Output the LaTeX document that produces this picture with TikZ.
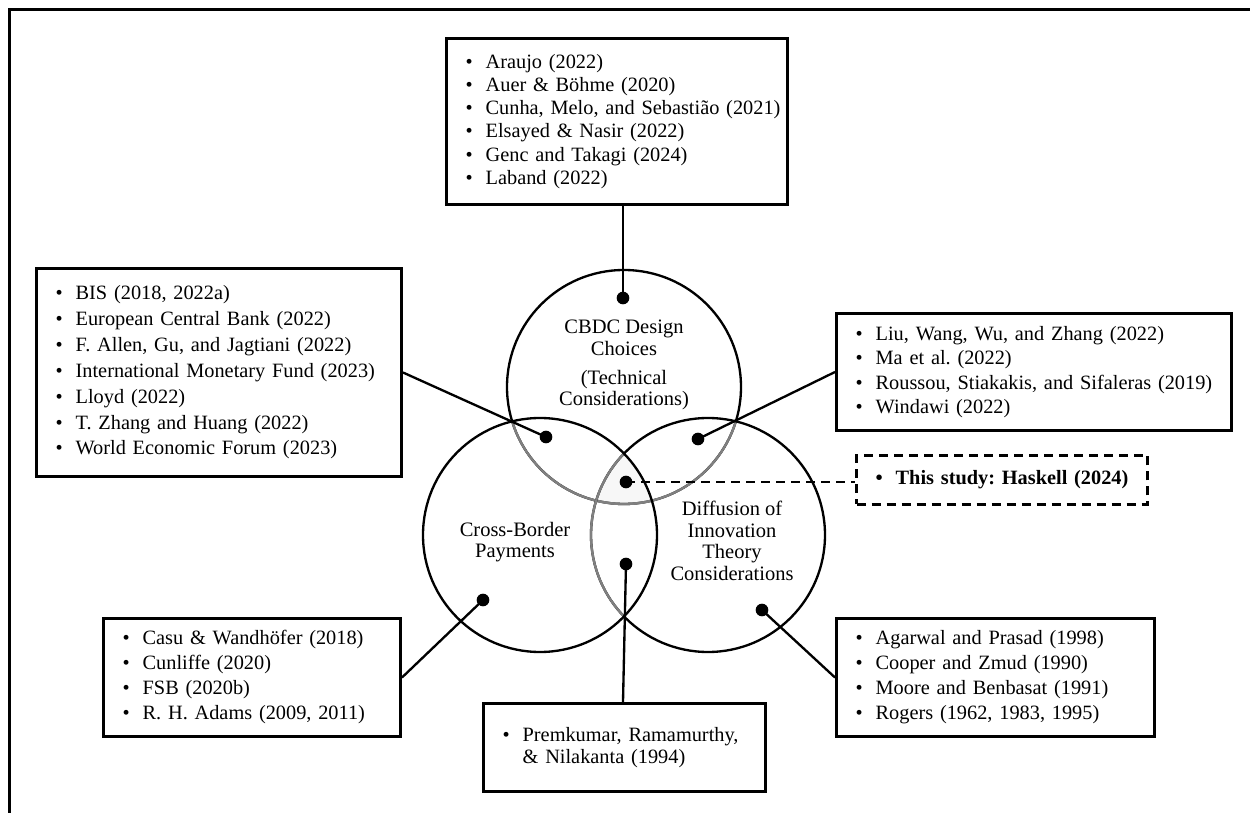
\documentclass[tikz,border=0pt]{standalone}
\usepackage{fontspec}
\setmainfont{Liberation Serif}
\usetikzlibrary{calc}
\frenchspacing
% bullet followed by a fixed gap before the entry text
\newcommand\itm{\makebox[12pt][l]{\textbullet}}
\newcommand\ind{\hspace*{12pt}}
\newcommand\R{70.2pt}
\begin{document}
\begin{tikzpicture}[x=0.6pt,y=-0.6pt,
  refbox/.style={draw, line width=1.8pt, anchor=north west, align=left,
    inner xsep=11.5pt, inner ysep=0pt},
  dashbox/.style={refbox, dash pattern=on 5.4pt off 3.6pt},
  ring/.style={line width=1.4pt, draw=black},
  innerarc/.style={draw=black!50},
  dot/.style={circle, fill=black, inner sep=0pt, minimum size=7.6pt},
  link/.style={line width=1.4pt},
  lbl/.style={align=center, inner sep=0pt}]
\useasboundingbox (0,0) rectangle (1250,813);

% frame
\draw[line width=1.8pt] (1252,10) -- (9,10) -- (9,815);

% circle centres
\coordinate (cT) at (624,387);
\coordinate (cL) at (540,535);
\coordinate (cR) at (708,535);

% shared region of all three circles
\begin{scope}
  \clip (cT) circle[radius=\R];
  \clip (cL) circle[radius=\R];
  \fill[black!3] (cR) circle[radius=\R];
\end{scope}

% top circle, lighter where it lies inside the lower circles
\draw[ring] (cT) circle[radius=\R];
\begin{scope}
  \clip (cL) circle[radius=\R];
  \draw[ring, innerarc] (cT) circle[radius=\R];
\end{scope}
\begin{scope}
  \clip (cR) circle[radius=\R];
  \draw[ring, innerarc] (cT) circle[radius=\R];
\end{scope}

% right circle, lighter inside the left one
\draw[ring] (cR) circle[radius=\R];
\begin{scope}
  \clip (cL) circle[radius=\R];
  \draw[ring, innerarc] (cR) circle[radius=\R];
\end{scope}

% left circle
\draw[ring] (cL) circle[radius=\R];

% circle labels
\node[lbl, font=\fontsize{12.3}{13}\selectfont] (tT) at (624,365)
  {CBDC Design\\Choices\\[4.4pt](Technical\\Considerations)};
\node[lbl, font=\fontsize{12.3}{13}\selectfont] (tL) at (515,542)
  {Cross-Border\\Payments};
\node[lbl, font=\fontsize{12.3}{13}\selectfont] (tR) at (732,541)
  {Diffusion of\\Innovation\\Theory\\Considerations};

% reference boxes
\node[refbox, text width=181.6pt, minimum height=99.6pt,
  font=\fontsize{12.2}{13.9}\selectfont] (tbox) at (445,37)
  {\itm Araujo (2022)\\
   \itm Auer \& Böhme (2020)\\
   \itm \mbox{Cunha, Melo, and Sebastião (2021)}\\
   \itm Elsayed \& Nasir (2022)\\
   \itm Genc and Takagi (2024)\\
   \itm Laband (2022)};

\node[refbox, text width=196pt, minimum height=124.8pt,
  font=\fontsize{12.2}{15.5}\selectfont] (lbox) at (35,267)
  {\itm BIS (2018, 2022a)\\
   \itm European Central Bank (2022)\\
   \itm F. Allen, Gu, and Jagtiani (2022)\\
   \itm \mbox{International Monetary Fund (2023)}\\
   \itm Lloyd (2022)\\
   \itm T. Zhang and Huang (2022)\\
   \itm World Economic Forum (2023)};

\node[refbox, text width=214pt, minimum height=70.2pt,
  font=\fontsize{12.2}{14.6}\selectfont] (rbox) at (835,312)
  {\itm Liu, Wang, Wu, and Zhang (2022)\\
   \itm Ma et al. (2022)\\
   \itm \mbox{Roussou, Stiakakis, and Sifaleras (2019)}\\
   \itm Windawi (2022)};

\node[dashbox, text width=151.6pt, minimum height=29.4pt,
  font=\fontsize{12.2}{14.6}\selectfont\bfseries] (dbox) at (855,454)
  {\itm \mbox{This study: Haskell (2024)}};

\node[refbox, text width=155.2pt, minimum height=70.8pt,
  font=\fontsize{12.2}{15}\selectfont] (blbox) at (102,617)
  {\itm Casu \& Wandhöfer (2018)\\
   \itm Cunliffe (2020)\\
   \itm FSB (2020b)\\
   \itm R. H. Adams (2009, 2011)};

\node[refbox, text width=146.2pt, minimum height=52.8pt,
  font=\fontsize{12.2}{13.4}\selectfont] (bmbox) at (482,702)
  {\itm \mbox{Premkumar, Ramamurthy,}\\
   \ind \& Nilakanta (1994)};

\node[refbox, text width=167.8pt, minimum height=70.8pt,
  font=\fontsize{12.2}{15}\selectfont] (brbox) at (835,617)
  {\itm Agarwal and Prasad (1998)\\
   \itm Cooper and Zmud (1990)\\
   \itm Moore and Benbasat (1991)\\
   \itm Rogers (1962, 1983, 1995)};

% markers
\node[dot] (dT)  at (623,298) {};
\node[dot] (dLT) at (546,437) {};
\node[dot] (dRT) at (698,439) {};
\node[dot] (dC)  at (626,482) {};
\node[dot] (dB)  at (626,564) {};
\node[dot] (dL)  at (483,600) {};
\node[dot] (dR)  at (762,610) {};

% connectors
\draw[link] (tbox.south -| dT) -- (dT.center);
\draw[link] (lbox.east) -- (dLT.center);
\draw[link] (rbox.west) -- (dRT.center);
\draw[link, dash pattern=on 5.4pt off 3.6pt] (dC.center) -- (dC -| dbox.west);
\draw[link] (blbox.east) -- (dL.center);
\draw[link] (brbox.west) -- (dR.center);
\draw[link] ([xshift=84.6pt]bmbox.north west) -- (dB.center);
\end{tikzpicture}
\end{document}
